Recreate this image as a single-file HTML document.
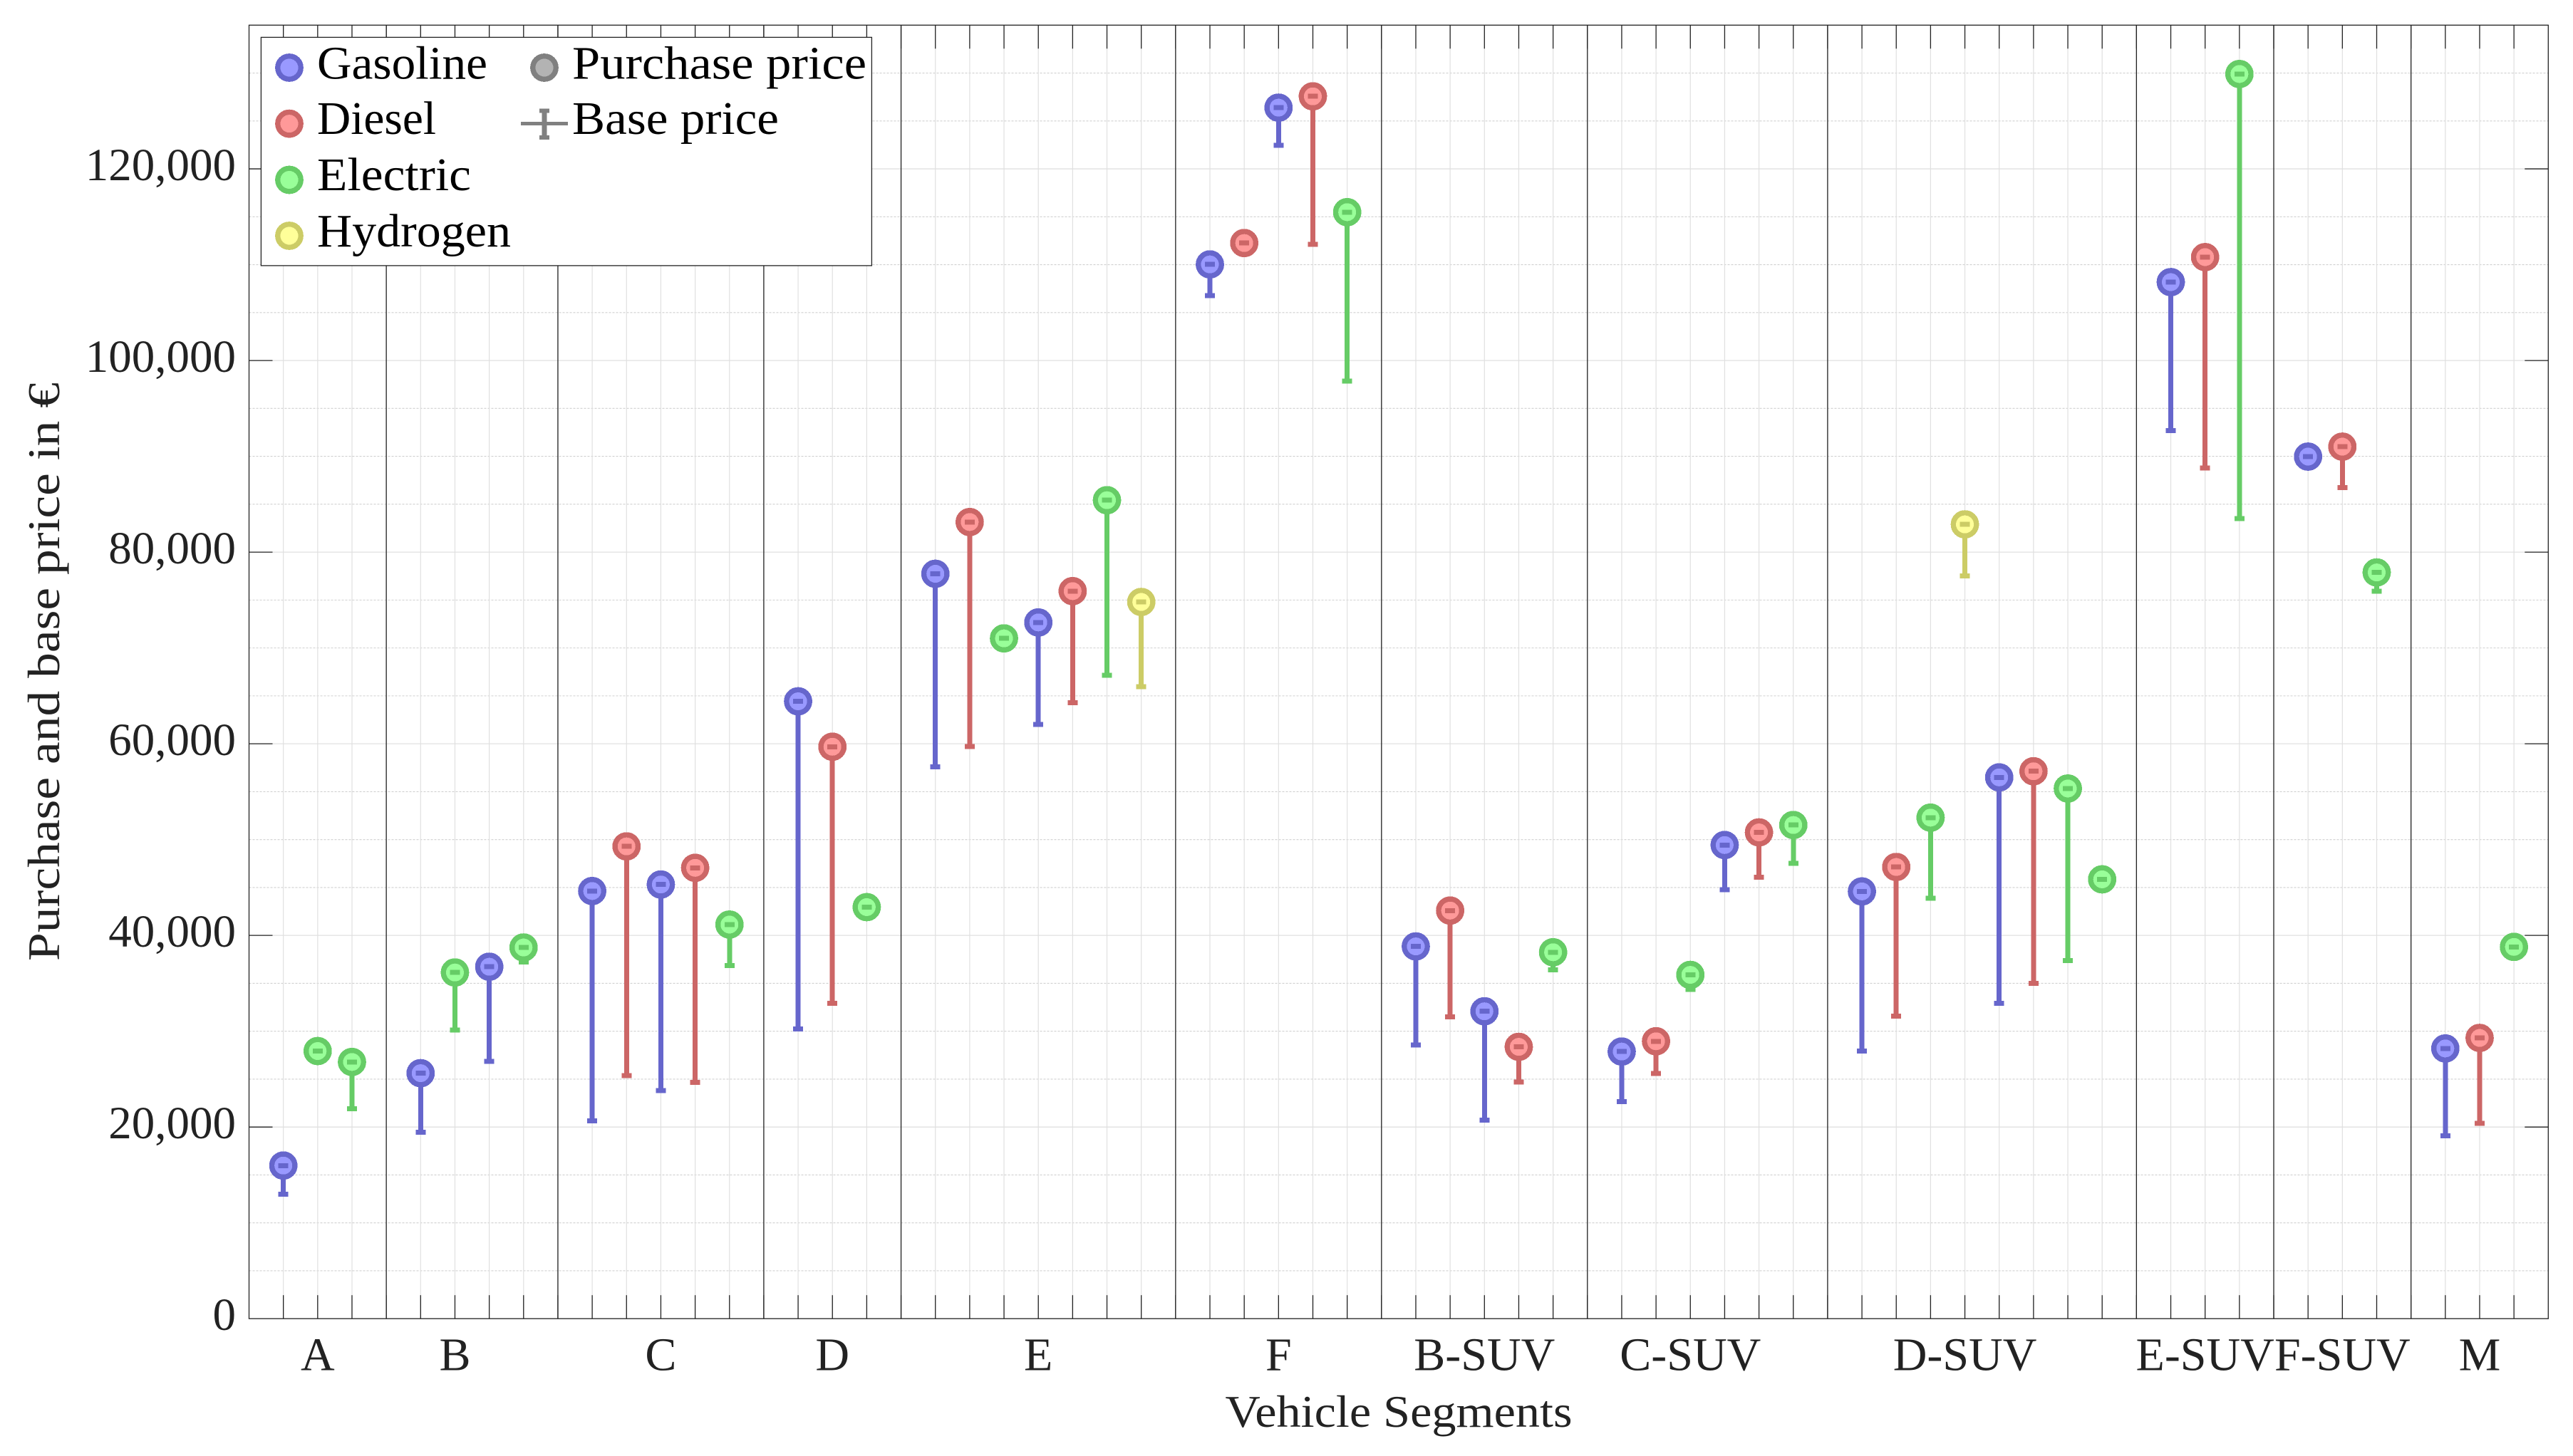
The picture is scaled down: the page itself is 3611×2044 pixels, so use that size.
<!DOCTYPE html>
<html lang="en">
<head>
<meta charset="utf-8">
<title>Purchase and base price by vehicle segment</title>
<style>
html,body{margin:0;padding:0;background:#fff;}
svg{display:block;}
text{font-family:"Liberation Serif",serif;fill:#222;}
.legend-text{fill:#000;font-size:66px;}
</style>
</head>
<body>
<svg id="chart" xmlns="http://www.w3.org/2000/svg" width="3611" height="2044" viewBox="0 0 3611 2044">
  <rect x="0" y="0" width="3611" height="2044" fill="#ffffff"/>
  <g id="grid"></g>
  <g id="axes"></g>
  <g id="marks"></g>
  <g id="labels"></g>
  <text x="1963" y="2003" font-size="64" text-anchor="middle" textLength="487" lengthAdjust="spacingAndGlyphs">Vehicle Segments</text>
  <text x="0" y="0" font-size="64" text-anchor="middle" textLength="812" lengthAdjust="spacingAndGlyphs" transform="translate(83 943) rotate(-90)">Purchase and base price in €</text>
  <g>
    <rect x="366.4" y="52.4" width="857" height="320.5" fill="#ffffff" stroke="#222222" stroke-width="1.3"/>
    <g>
      <circle cx="406" cy="95" r="16.2" fill="#9999ff" stroke="#6666cc" stroke-width="7.4" shape-rendering="crispEdges"/>
      <text class="legend-text" x="445" y="110.7" textLength="239" lengthAdjust="spacingAndGlyphs">Gasoline</text>
    </g>
    <g>
      <circle cx="406" cy="173.6" r="16.2" fill="#ff9999" stroke="#cc6666" stroke-width="7.4" shape-rendering="crispEdges"/>
      <text class="legend-text" x="445" y="188" textLength="167" lengthAdjust="spacingAndGlyphs">Diesel</text>
    </g>
    <g>
      <circle cx="406" cy="252.5" r="16.2" fill="#99ff99" stroke="#66cc66" stroke-width="7.4" shape-rendering="crispEdges"/>
      <text class="legend-text" x="445" y="267" textLength="216" lengthAdjust="spacingAndGlyphs">Electric</text>
    </g>
    <g>
      <circle cx="406" cy="331" r="16.2" fill="#ffff99" stroke="#cccc66" stroke-width="7.4" shape-rendering="crispEdges"/>
      <text class="legend-text" x="445" y="346" textLength="272" lengthAdjust="spacingAndGlyphs">Hydrogen</text>
    </g>
    <g>
      <circle cx="764" cy="95" r="16.2" fill="#b3b3b3" stroke="#808080" stroke-width="7.4" shape-rendering="crispEdges"/>
      <text class="legend-text" x="803" y="110.7" textLength="413" lengthAdjust="spacingAndGlyphs">Purchase price</text>
    </g>
    <g fill="#808080" shape-rendering="crispEdges">
      <rect x="731" y="171" width="66" height="5"/>
      <rect x="760.5" y="152.5" width="7" height="43"/>
      <rect x="757" y="152.5" width="14" height="6"/>
      <rect x="757" y="190" width="14" height="6"/>
      <text class="legend-text" x="803" y="188" textLength="290" lengthAdjust="spacingAndGlyphs">Base price</text>
    </g>
  </g>
</svg>
<script>
const segments = ['A', 'B', 'C', 'D', 'E', 'F', 'B-SUV', 'C-SUV', 'D-SUV', 'E-SUV', 'F-SUV', 'M'];
const segmentCounts = [3, 4, 5, 3, 7, 5, 5, 6, 8, 3, 3, 3];
const fuels = [
  'G','E','E',
  'G','E','G','E',
  'G','D','G','D','E',
  'G','D','E',
  'G','D','E','G','D','E','H',
  'G','D','G','D','E',
  'G','D','G','D','E',
  'G','D','E','G','D','E',
  'G','D','E','H','G','D','E','E',
  'G','D','E',
  'G','D','E',
  'G','D','E'
];
const purchasePrice = [
  15980,27930,26790,
  25620,36130,36730,38740,
  44630,49290,45310,47050,41130,
  64430,59690,42950,
  77740,83140,71000,72660,75930,85420,74800,
  110030,112260,126390,127570,115480,
  38850,42590,32080,28370,38240,
  27880,28950,35880,49430,50750,51520,
  44590,47140,52290,82900,56490,57130,55330,45850,
  108180,110790,129900,
  89970,91010,77880,
  28200,29300,38800
];
const basePrice = [
  12980,27930,21900,
  19470,30130,26870,37230,
  20650,25350,23800,24670,36850,
  30240,32900,42950,
  57580,59720,70400,62000,64300,67160,65970,
  106760,112260,122450,112120,97840,
  28560,31500,20730,24690,36400,
  22660,25600,34370,44780,46070,47520,
  27920,31590,43880,77500,32920,34980,37370,45850,
  92670,88780,83520,
  89970,86750,75930,
  19070,20390,38800
];
const yTickValues = [0, 20000, 40000, 60000, 80000, 100000, 120000];
const yTickLabels = ['0', '20,000', '40,000', '60,000', '80,000', '100,000', '120,000'];
const yMinorStep = 5000;
const yMax = 135000;

const fuelNames = {G: 'gasoline', D: 'diesel', E: 'electric', H: 'hydrogen'};
const fuelStroke = {G: '#6666cc', D: '#cc6666', E: '#66cc66', H: '#cccc66'};
const fuelFill = {G: '#9999ff', D: '#ff9999', E: '#99ff99', H: '#ffff99'};

const plotLeft = 349.5, plotRight = 3576.3, plotTop = 35.3, plotBottom = 1851.2;
const slotTotal = segmentCounts.reduce(function (a, b) { return a + b; }, 0) + segments.length;
function xScale(slot) { return plotLeft + slot * (plotRight - plotLeft) / slotTotal; }
function yScale(v) { return plotBottom - v * (plotBottom - plotTop) / yMax; }

const NS = 'http://www.w3.org/2000/svg';
function mk(parent, tag, props) {
  const node = document.createElementNS(NS, tag);
  for (const k in props) node.setAttribute(k, props[k]);
  parent.appendChild(node);
  return node;
}
const gridG = document.getElementById('grid');
const axesG = document.getElementById('axes');
const marksG = document.getElementById('marks');
const labelsG = document.getElementById('labels');
const AXIS = '#222222', LW = 1.3, TICK = 33;

// minor horizontal grid
for (let v = yMinorStep; v <= yMax; v += yMinorStep) {
  if (yTickValues.indexOf(v) >= 0 || v === yMax) continue;
  const l = mk(gridG, 'line', {x1: plotLeft, x2: plotRight, y1: yScale(v), y2: yScale(v), stroke: '#d0d0d0', 'stroke-width': 1.1, 'stroke-dasharray': '3 2'});
  
  
}
// major horizontal grid, y ticks, y labels
yTickValues.forEach(function (v, i) {
  const y = yScale(v);
  if (v > 0) {
    const g = mk(gridG, 'line', {x1: plotLeft, x2: plotRight, y1: y, y2: y, stroke: '#e0e0e0', 'stroke-width': 1.3});
    
    
    const t1 = mk(axesG, 'line', {x1: plotLeft, x2: plotLeft + TICK, y1: y, y2: y, stroke: AXIS, 'stroke-width': LW});
    
    
    const t2 = mk(axesG, 'line', {x1: plotRight - TICK, x2: plotRight, y1: y, y2: y, stroke: AXIS, 'stroke-width': LW});
    
    
  }
  const t = mk(labelsG, 'text', {x: 331, y: y + 16, 'font-size': 65, 'text-anchor': 'end'});
  t.textContent = yTickLabels[i];
  
  
});
// vertical grid + ticks on every slot
for (let s = 1; s < slotTotal; s++) {
  const x = xScale(s);
  const g = mk(gridG, 'line', {x1: x, x2: x, y1: plotTop, y2: plotBottom, stroke: '#e0e0e0', 'stroke-width': 1.2});
  
  
  const t1 = mk(axesG, 'line', {x1: x, x2: x, y1: plotBottom - TICK, y2: plotBottom, stroke: AXIS, 'stroke-width': LW});
  
  
  const t2 = mk(axesG, 'line', {x1: x, x2: x, y1: plotTop, y2: plotTop + TICK, stroke: AXIS, 'stroke-width': LW});
  
  
}
// plot frame
const frame = mk(axesG, 'rect', {x: plotLeft, y: plotTop, width: plotRight - plotLeft, height: plotBottom - plotTop, fill: 'none', stroke: AXIS, 'stroke-width': LW});



// segments: separators, labels, marks
let slot = 1, vehicle = 0;
segments.forEach(function (name, si) {
  const n = segmentCounts[si];
  const first = slot, last = slot + n - 1;
  const label = mk(labelsG, 'text', {x: xScale(Math.floor((first + last) / 2)), y: 1923.3, 'font-size': 66, 'text-anchor': 'middle'});
  label.textContent = name;
  
  
  if (si < segments.length - 1) {
    const sx = xScale(last + 1);
    const sep = mk(axesG, 'line', {x1: sx, x2: sx, y1: plotTop, y2: plotBottom, stroke: AXIS, 'stroke-width': LW});
    
    
  }
  for (let s = first; s <= last; s++, vehicle++) {
    const fuel = fuels[vehicle];
    const color = fuelStroke[fuel];
    const x = xScale(s), yTop = yScale(purchasePrice[vehicle]), yBase = yScale(basePrice[vehicle]);
    const group = mk(marksG, 'g', {'shape-rendering': 'crispEdges'});
    
    
    const stem = mk(group, 'rect', {x: x - 3.5, y: yTop, width: 7, height: Math.max(0, yBase - yTop), fill: color});
    
    
    const capLow = mk(group, 'rect', {x: x - 7, y: yBase - 3.5, width: 14, height: 7, fill: color});
    
    
    const dot = mk(group, 'circle', {cx: x, cy: yTop, r: 16.2, fill: fuelFill[fuel], stroke: color, 'stroke-width': 7.4});
    
    
    const capTop = mk(group, 'rect', {x: x - 7, y: yTop - 3.5, width: 14, height: 7, fill: color});
    
    
  }
  slot = last + 2;
});
</script>
</body>
</html>
